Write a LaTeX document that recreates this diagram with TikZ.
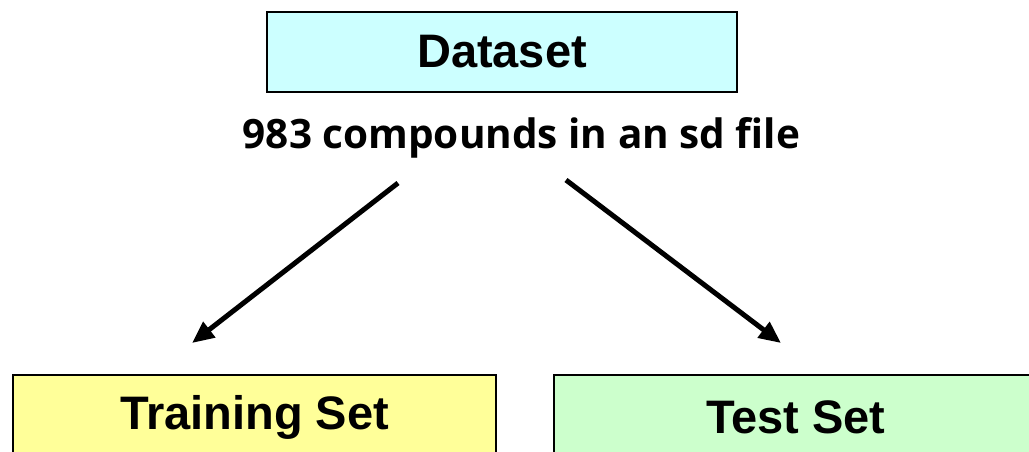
\documentclass[tikz,border=0pt]{standalone}
\usepackage{fontspec}
\setmainfont{Liberation Sans}
\newfontfamily\labfont{Open Sans}
\usetikzlibrary{arrows.meta}
\definecolor{cyanfill}{HTML}{CCFFFF}
\definecolor{yellowfill}{HTML}{FFFF99}
\definecolor{greenfill}{HTML}{CCFFCC}
\tikzset{
  box/.style={draw=black, line width=2.2pt, inner sep=0pt, font=\fontsize{47}{50}\selectfont\bfseries},
  arr/.style={line width=5pt, -{Triangle[length=22pt,width=19pt]}},
}
\begin{document}
\begin{tikzpicture}[x=1pt,y=-1pt]
\useasboundingbox (0,0) rectangle (1029,451);
\clip (0,0) rectangle (1029,451);
\node[box, fill=cyanfill, minimum width=470pt, minimum height=80pt] (ds) at (502,52) {Dataset};
\node[font=\labfont\fontsize{40.5}{44}\selectfont\bfseries] (lbl) at (521.5,138) {983 compounds in an sd file};
\node[box, fill=yellowfill, minimum width=483pt, minimum height=84pt] (train) at (254.5,417) {Training Set};
\node[box, fill=greenfill, minimum width=484pt, minimum height=84pt] (test) at (796,417) {Test Set};
\coordinate (s1) at (398,183);
\coordinate (e1) at (192,343);
\coordinate (s2) at (566,180);
\coordinate (e2) at (781,343);
\draw[arr] (s1) -- (e1);
\draw[arr] (s2) -- (e2);
\end{tikzpicture}
\end{document}
